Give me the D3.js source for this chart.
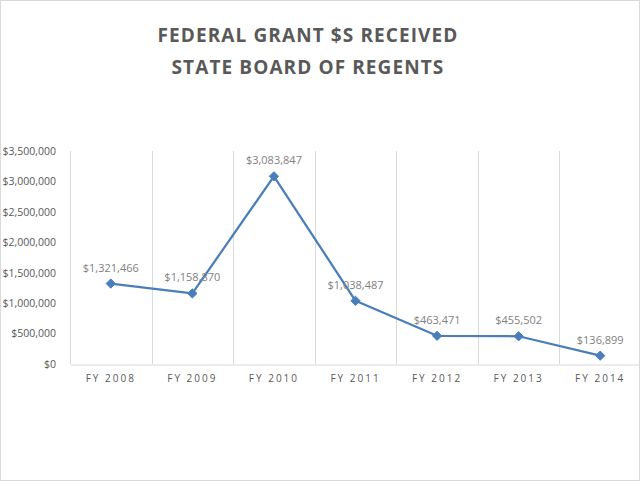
<!DOCTYPE html>
<html><head><meta charset="utf-8">
<script src="https://cdn.jsdelivr.net/npm/d3@7"></script>
<style>body{margin:0;background:#fff}svg{display:block}</style>
</head><body>
<svg id="c" width="640" height="481"></svg>
<script>
const categories = ["FY 2008","FY 2009","FY 2010","FY 2011","FY 2012","FY 2013","FY 2014"];
const values = [1321466, 1158870, 3083847, 1038487, 463471, 455502, 136899];
const yTicks = [0,500000,1000000,1500000,2000000,2500000,3000000,3500000];
const titleLines = ["FEDERAL GRANT $S RECEIVED","STATE BOARD OF REGENTS"];

(function(){
const svg = d3.select("#c");
svg.append("rect").attr("x",0.5).attr("y",0.5).attr("width",639).attr("height",480)
  .attr("fill","#fff").attr("stroke","#d9d9d9");

const pLeft=70, pRight=641, pTop=151, pBottom=364;
const x = d3.scaleBand().domain(categories).range([pLeft,pRight]);
const y = d3.scaleLinear().domain([0,3500000]).range([pBottom,pTop]);

// title
svg.append("g").selectAll("text").data(titleLines).join("text")
  .attr("x",308).attr("y",(d,i)=>42+i*32).attr("text-anchor","middle")
  .attr("font-family","'Open Sans', sans-serif").attr("font-weight","bold")
  .attr("font-size",19).attr("letter-spacing",1.1).attr("fill","#595959").text(d=>d);

// vertical gridlines
svg.append("g").selectAll("line").data(categories).join("line")
  .attr("x1",d=>Math.round(x(d))+0.5).attr("x2",d=>Math.round(x(d))+0.5).attr("y1",pTop).attr("y2",pBottom)
  .attr("stroke","#d9d9d9");

// x axis
const xa = svg.append("g").attr("transform",`translate(0,${pBottom+0.5})`)
  .call(d3.axisBottom(x).tickSize(0).tickPadding(10));
xa.select(".domain").attr("stroke","#d9d9d9");
xa.selectAll("text").attr("font-family","'Open Sans', sans-serif").attr("font-size",10)
  .attr("letter-spacing",2).attr("fill","#595959");

// y axis
const ya = svg.append("g").attr("transform",`translate(${pLeft-14},0)`)
  .call(d3.axisLeft(y).tickValues(yTicks).tickSize(0).tickPadding(0)
    .tickFormat(d=>"$"+d3.format(",")(d)));
ya.select(".domain").remove();
ya.selectAll("text").attr("font-family","'Open Sans', sans-serif").attr("font-size",10.5)
  .attr("fill","#595959");

// line
const cx = d=>x(d)+x.bandwidth()/2;
svg.append("path").datum(values.map((v,i)=>[categories[i],v]))
  .attr("fill","none").attr("stroke","#4a7ebb").attr("stroke-width",2.25)
  .attr("stroke-linejoin","round")
  .attr("d",d3.line().x(d=>cx(d[0])).y(d=>y(d[1])));

// markers
svg.append("g").selectAll("path").data(values).join("path")
  .attr("transform",(d,i)=>`translate(${cx(categories[i])},${y(d)})`)
  .attr("d",d3.symbol().type(d3.symbolDiamond2).size(55))
  .attr("fill","#4a7ebb").attr("stroke","#4a7ebb");

// data labels
svg.append("g").selectAll("text").data(values).join("text")
  .attr("x",(d,i)=>cx(categories[i])).attr("y",d=>y(d)-12)
  .attr("text-anchor","middle").attr("font-family","'Open Sans', sans-serif")
  .attr("font-size",11).attr("fill","#7f7f7f")
  .text(d=>"$"+d3.format(",")(d));
})();
</script>
</body></html>
